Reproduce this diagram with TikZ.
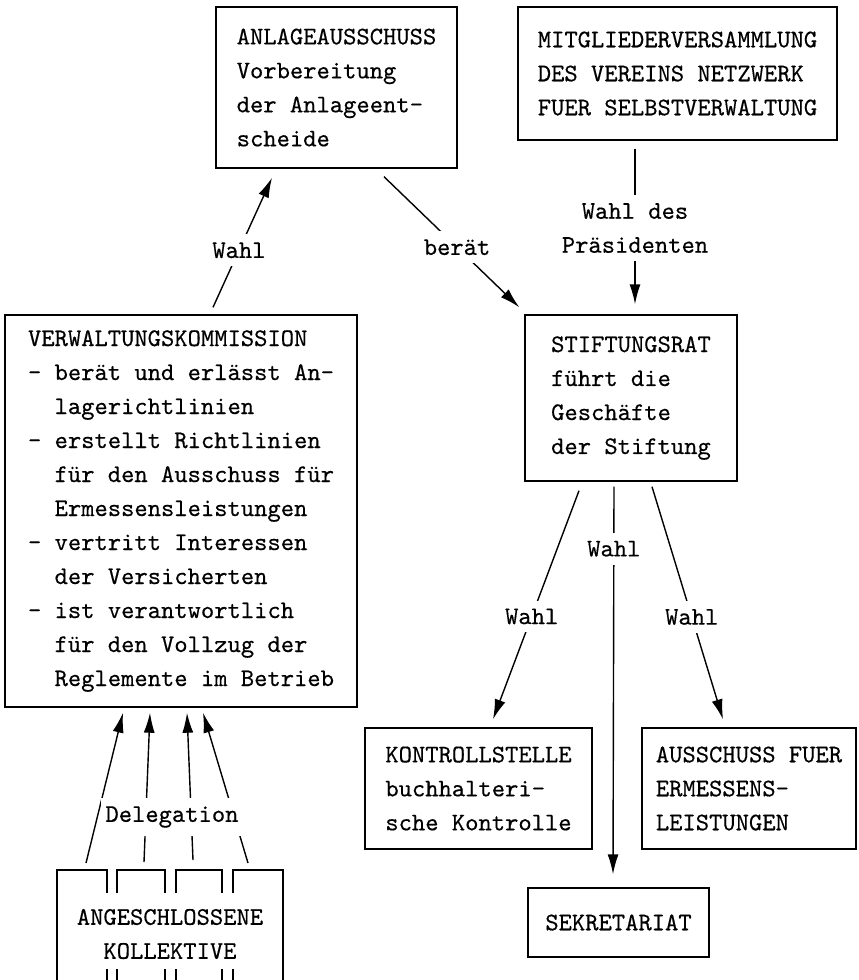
\documentclass[tikz,border=0pt]{standalone}
\usepackage{fontspec}
\setmonofont{lmmono10-regular}[Extension=.otf, FakeBold=0.4]
\usetikzlibrary{arrows.meta, calc}
\newcommand{\einr}{\hspace*{13.3pt}}

\begin{document}
\begin{tikzpicture}[
  x=0.5pt, y=-0.5pt,
  font=\ttfamily\fontsize{12.67}{17}\selectfont,
  box/.style={draw, line width=0.7pt, align=left, inner sep=0pt},
  arrow/.style={-{Latex[length=10pt,width=5.5pt]}, line width=0.7pt},
  lbl/.style={fill=white, inner xsep=2pt, inner ysep=4pt}]
  \useasboundingbox (0,0) rectangle (858,980);
  \clip (0,0) rectangle (858,980);
  \node[box, minimum width=120.5pt, minimum height=80.5pt] (anlage) at (336.5,87.5)
    {ANLAGEAUSSCHUSS\\Vorbereitung\\der Anlageent-\\scheide};
  \node[box, minimum width=159.5pt, minimum height=66.5pt] (mitglied) at (677.5,73.5)
    {MITGLIEDERVERSAMMLUNG\\DES VEREINS NETZWERK\\FUER SELBSTVERWALTUNG};
  \node[box, minimum width=176pt, minimum height=196pt] (vk) at (181,511)
    {VERWALTUNGSKOMMISSION\\- berät und erlässt An-\\\einr lagerichtlinien\\
     - erstellt Richtlinien\\\einr für den Ausschuss für\\\einr Ermessensleistungen\\
     - vertritt Interessen\\\einr der Versicherten\\- ist verantwortlich\\
     \einr für den Vollzug der\\\einr Reglemente im Betrieb};
  \node[box, minimum width=106pt, minimum height=83pt] (stift) at (631,398)
    {STIFTUNGSRAT\\führt die\\Geschäfte\\der Stiftung};
  \node[box, minimum width=113.5pt, minimum height=60.5pt] (kontroll) at (478.5,788.5)
    {KONTROLLSTELLE\\buchhalteri-\\sche Kontrolle};
  \node[box, minimum width=107pt, minimum height=60.5pt] (ausschuss) at (749,788.5)
    {AUSSCHUSS FUER\\ERMESSENS-\\LEISTUNGEN};
  \node[box, minimum width=90.5pt, minimum height=34.5pt] (sekr) at (618.5,922.5)
    {SEKRETARIAT};
  \node[align=center] (koll) at (170,934) {ANGESCHLOSSENE\\KOLLEKTIVE};
  \foreach \a/\b in {57/107,117/165,176/222,233/283} {
    \draw[line width=0.7pt] (\a,893) -- (\a,870) -- (\b,870) -- (\b,893);
    \draw[line width=0.7pt] (\a,969) -- (\a,992) -- (\b,992) -- (\b,969);
  }
  \draw[line width=0.7pt] (57,893) -- (57,969);
  \draw[line width=0.7pt] (283,893) -- (283,969);
  \coordinate (d1) at (86,863);
  \coordinate (d2) at (144,862);
  \coordinate (d3) at (193,860);
  \coordinate (d4) at (248,863);
  \foreach \i/\dx in {1/-58,2/-31,3/6,4/22}
    \draw[arrow] (d\i) -- ($(vk.south)+(\dx,5)$);
  \node[lbl] (deleg) at (172,817) {Delegation};
  \draw[arrow] ($(vk.north)+(32,-7)$) -- node[lbl, pos=0.44] {Wahl} ($(anlage.south)+(-64.5,9)$);
  \draw[arrow] ($(anlage.south)+(47.5,8)$) -- node[lbl, pos=0.54] {berät} ($(stift.north west)+(-5,-7)$);
  \draw[arrow] ($(mitglied.south)+(-42.5,8)$) -- node[lbl, align=center, pos=0.51] {Wahl des\\Präsidenten} ($(stift.north)+(4,-10)$);
  \draw[arrow] ($(stift.south)+(-52,9)$) -- node[lbl, pos=0.55] {Wahl} ($(kontroll.north)+(14.5,-8)$);
  \draw[arrow] ($(stift.south)+(-17,5)$) -- node[lbl, pos=0.16] {Wahl} ($(sekr.north)+(-5.5,-13)$);
  \draw[arrow] ($(stift.south)+(21,5)$) -- node[lbl, pos=0.56] {Wahl} ($(ausschuss.north)+(-26,-8)$);
\end{tikzpicture}
\end{document}
